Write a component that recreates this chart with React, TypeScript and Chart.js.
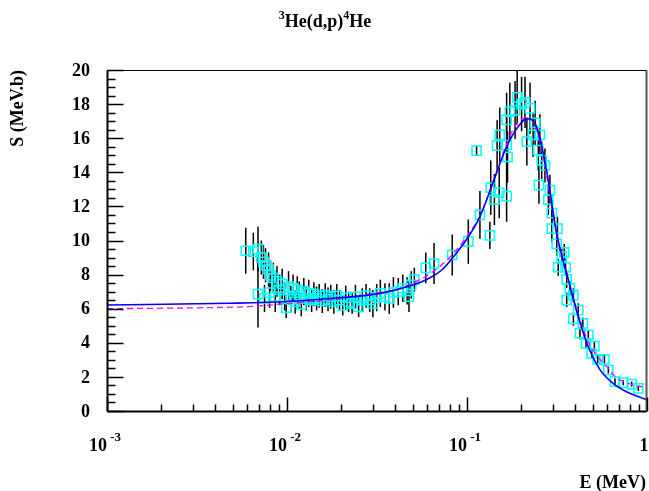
import React, { useEffect, useRef } from "react";
import { Chart, registerables } from "chart.js";

Chart.register(...registerables);

// ---- measured data points: energy (MeV), S-factor (MeV.b), error ----
const pointE = [
  0.0059, 0.0065, 0.0069, 0.0069, 0.0072, 0.0074, 0.0076, 0.0075, 0.0079, 0.0081,
  0.008, 0.0084, 0.0086, 0.0088, 0.0091, 0.0094, 0.0097, 0.0099, 0.0102, 0.0105,
  0.0108, 0.0111, 0.0114, 0.0117, 0.012, 0.0124, 0.0128, 0.0132, 0.0137, 0.0141,
  0.0146, 0.0151, 0.0157, 0.0163, 0.0169, 0.0175, 0.0182, 0.0189, 0.0196, 0.0204,
  0.0212, 0.022, 0.023, 0.024, 0.025, 0.0262, 0.0275, 0.0288, 0.03, 0.0315,
  0.033, 0.035, 0.037, 0.039, 0.0415, 0.044, 0.0465, 0.0476, 0.049, 0.051,
  0.059, 0.0656, 0.0828, 0.1017, 0.113, 0.118, 0.134, 0.1355, 0.142, 0.147,
  0.151, 0.152, 0.166, 0.166, 0.166, 0.168, 0.173, 0.185, 0.19, 0.201,
  0.21, 0.215, 0.224, 0.233, 0.239, 0.249, 0.251, 0.254, 0.26, 0.271,
  0.283, 0.289, 0.296, 0.296, 0.315, 0.318, 0.336, 0.347, 0.321, 0.353,
  0.358, 0.373, 0.39, 0.358, 0.415, 0.39, 0.44, 0.424, 0.472, 0.458,
  0.51, 0.493, 0.532, 0.58, 0.61, 0.664, 0.738, 0.822, 0.895,
];
const pointS = [
  9.4, 9.35, 9.5, 6.85, 9.0, 8.75, 8.55, 6.6, 8.3, 7.95,
  6.95, 7.8, 6.7, 7.6, 7.1, 7.45, 6.7, 6.05, 7.3, 6.55,
  7.2, 6.4, 7.1, 6.8, 6.25, 7.0, 6.6, 6.9, 6.5, 6.85,
  6.6, 6.75, 6.45, 6.8, 6.55, 6.7, 6.4, 6.75, 6.5, 6.2,
  6.65, 6.4, 6.3, 6.7, 6.1, 6.5, 6.75, 6.5, 6.3, 6.65,
  6.9, 6.7, 6.6, 6.95, 7.0, 7.2, 7.05, 6.7, 7.4, 7.7,
  8.4, 8.65, 9.15, 9.93, 15.27, 11.5, 10.3, 13.1, 12.4, 15.56,
  12.8, 16.2, 12.6, 15.6, 17.07, 14.9, 17.55, 17.65, 18.4, 18.0,
  18.1, 15.8, 17.75, 16.2, 16.9, 15.3, 13.25, 16.2, 14.7, 14.4,
  12.4, 12.96, 11.6, 10.7, 9.8, 10.7, 9.05, 9.3, 8.43, 8.43,
  7.72, 7.2, 6.8, 6.5, 5.92, 5.4, 5.14, 4.56, 4.46, 3.97,
  3.81, 3.38, 3.03, 3.03, 2.4, 1.72, 1.66, 1.58, 1.33,
];
const pointErr = [
  1.35, 1.1, 1.3, 1.95, 1.0, 1.0, 1.0, 0.8, 1.0, 0.9,
  0.9, 0.9, 0.9, 0.9, 0.9, 0.9, 0.8, 0.6, 0.9, 0.8,
  0.8, 0.7, 0.8, 0.8, 0.7, 0.8, 0.7, 0.8, 0.7, 0.7,
  0.7, 0.7, 0.7, 0.7, 0.7, 0.7, 0.7, 0.7, 0.6, 0.6,
  0.7, 0.6, 0.6, 0.7, 0.6, 0.7, 0.7, 0.7, 0.8, 0.8,
  0.8, 0.8, 0.9, 0.9, 0.8, 0.8, 0.8, 0.9, 0.8, 0.7,
  0.9, 1.2, 1.2, 1.3, 0.3, 1.4, 0.8, 1.6, 1.5, 1.5,
  1.5, 1.6, 1.5, 1.6, 1.6, 1.5, 1.7, 1.7, 1.6, 1.6,
  1.5, 1.4, 1.5, 1.3, 1.3, 1.2, 1.1, 1.2, 1.1, 1.0,
  0.9, 0.9, 0.8, 0.8, 0.7, 0.7, 0.5, 0.5, 0.5, 0.5,
  0.5, 0.4, 0.4, 0.4, 0.4, 0.4, 0.35, 0.35, 0.3, 0.3,
  0.3, 0.3, 0.25, 0.25, 0.2, 0.2, 0.15, 0.15, 0.15,
];

// ---- fit curve 1 (blue, solid) ----
const fitE = [
  0.001, 0.0048, 0.01, 0.0173, 0.033, 0.048, 0.062, 0.073, 0.082, 0.1,
  0.118, 0.139, 0.166, 0.193, 0.215, 0.243, 0.277, 0.315, 0.366, 0.415,
  0.48, 0.55, 0.648, 0.77, 1.0,
];
const fitS = [
  6.22, 6.32, 6.42, 6.6, 6.9, 7.33, 7.8, 8.3, 8.9, 10.1,
  11.4, 13.35, 15.5, 16.7, 17.15, 16.7, 14.1, 10.4, 7.68, 5.53,
  3.58, 2.4, 1.62, 1.13, 0.65,
];

// ---- fit curve 2 (magenta, dashed) ----
const fit2E = [
  0.001, 0.003, 0.006, 0.01, 0.02, 0.03, 0.04, 0.05, 0.06, 0.07,
  0.08, 0.1, 0.12, 0.14, 0.16, 0.18, 0.2, 0.215, 0.24, 0.27,
  0.3, 0.33, 0.37, 0.42, 0.48, 0.55, 0.61, 0.66, 0.74, 0.85, 0.94,
];
const fit2S = [
  6.0, 6.05, 6.12, 6.3, 6.6, 6.9, 7.1, 7.5, 7.95, 8.45,
  9.0, 10.25, 11.6, 13.5, 15.2, 16.5, 17.1, 17.2, 16.7, 14.5,
  11.6, 9.3, 7.5, 5.5, 3.9, 3.0, 2.5, 2.05, 1.72, 1.52, 1.42,
];

// ---- axes / labels ----
const yTickValues = [0, 2, 4, 6, 8, 10, 12, 14, 16, 18, 20];
const yTickLabels = ["0", "2", "4", "6", "8", "10", "12", "14", "16", "18", "20"];
const xDecadeValues = [0.001, 0.01, 0.1, 1];
const xTickBase = ["10", "10", "10", "1"];
const xTickExp = ["-3", "-2", "-1", ""];
const xMinorMultipliers = [2, 3, 4, 5, 6, 7, 8, 9];
const titleParts = [
  { t: "3", sup: true },
  { t: "He(d,p)", sup: false },
  { t: "4", sup: true },
  { t: "He", sup: false },
];
const xTitle = "E (MeV)";
const yTitle = "S (MeV.b)";

const FONT = '"Liberation Serif", "Times New Roman", serif';

function drawRich(ctx: CanvasRenderingContext2D, parts: { t: string; sup: boolean }[], x: number, baseline: number, size: number, supSize: number, supRise: number, align: "center" | "left") {
  const widths = parts.map((p) => {
    ctx.font = `bold ${p.sup ? supSize : size}px ${FONT}`;
    return ctx.measureText(p.t).width;
  });
  const total = widths.reduce((a, b) => a + b, 0);
  let cx = align === "center" ? x - total / 2 : x;
  ctx.textAlign = "left";
  ctx.textBaseline = "alphabetic";
  parts.forEach((p, i) => {
    ctx.font = `bold ${p.sup ? supSize : size}px ${FONT}`;
    ctx.fillText(p.t, cx, p.sup ? baseline - supRise : baseline);
    cx += widths[i];
  });
}

const errorBarPlugin = {
  id: "errorBars",
  beforeDatasetsDraw(chart: any) {
    const { ctx, scales } = chart;
    const xs = scales.x;
    const ys = scales.y;
    ctx.save();
    ctx.strokeStyle = "#000000";
    ctx.lineWidth = 1.5;
    for (let i = 0; i < pointE.length; i++) {
      const px = xs.getPixelForValue(pointE[i]);
      const y1 = ys.getPixelForValue(pointS[i] - pointErr[i]);
      const y2 = ys.getPixelForValue(pointS[i] + pointErr[i]);
      ctx.beginPath();
      ctx.moveTo(px, y1);
      ctx.lineTo(px, y2);
      ctx.stroke();
    }
    ctx.restore();
  },
};

const axesPlugin = {
  id: "rootAxes",
  afterDatasetsDraw(chart: any) {
    const { ctx, chartArea: a, scales } = chart;
    const xs = scales.x;
    const ys = scales.y;
    ctx.save();
    ctx.fillStyle = "#000000";
    ctx.strokeStyle = "#000000";
    ctx.lineWidth = 1;

    const L = Math.round(a.left) + 0.5;
    const R = Math.round(a.right) - 0.5;
    const T = Math.round(a.top) + 0.5;
    const B = Math.round(a.bottom) + 0.5;

    // frame
    ctx.beginPath();
    ctx.moveTo(L, T);
    ctx.lineTo(R, T);
    ctx.lineTo(R, B);
    ctx.lineTo(L, B);
    ctx.closePath();
    ctx.stroke();
    ctx.lineWidth = 2;
    ctx.beginPath();
    ctx.moveTo(L, B);
    ctx.lineTo(R, B);
    ctx.moveTo(L, T);
    ctx.lineTo(L, B);
    ctx.stroke();
    ctx.strokeStyle = "#555555";
    ctx.lineWidth = 2;
    ctx.beginPath();
    ctx.moveTo(R, T);
    ctx.lineTo(R, B);
    ctx.stroke();
    ctx.strokeStyle = "#000000";

    // x ticks
    ctx.lineWidth = 1.5;
    xDecadeValues.forEach((d, i) => {
      const px = Math.round(xs.getPixelForValue(d)) + 0.5;
      ctx.beginPath();
      ctx.moveTo(px, B);
      ctx.lineTo(px, B - 14);
      ctx.stroke();
      if (i < xDecadeValues.length - 1) {
        xMinorMultipliers.forEach((m) => {
          const mx = Math.round(xs.getPixelForValue(d * m)) + 0.5;
          ctx.beginPath();
          ctx.moveTo(mx, B);
          ctx.lineTo(mx, B - 7);
          ctx.stroke();
        });
      }
    });

    // y ticks
    for (let v = 0; v <= 20.001; v += 0.5) {
      const py = Math.round(ys.getPixelForValue(v)) + 0.5;
      const major = Math.abs(v / 2 - Math.round(v / 2)) < 1e-6;
      ctx.beginPath();
      ctx.moveTo(L, py);
      ctx.lineTo(L + (major ? 16 : 8), py);
      ctx.stroke();
    }

    // y labels
    ctx.font = `bold 18px ${FONT}`;
    ctx.textAlign = "right";
    ctx.textBaseline = "middle";
    yTickValues.forEach((v, i) => {
      ctx.fillText(yTickLabels[i], 90, ys.getPixelForValue(v) + 1);
    });

    // x labels
    xDecadeValues.forEach((d, i) => {
      const px = xs.getPixelForValue(d);
      const parts = [{ t: xTickBase[i], sup: false }];
      if (xTickExp[i]) parts.push({ t: " " + xTickExp[i], sup: true });
      drawRich(ctx, parts, i === xDecadeValues.length - 1 ? px - 3 : px - 2, 451, 18, 13, 10, "center");
    });

    // axis titles
    ctx.font = `bold 18px ${FONT}`;
    ctx.textAlign = "right";
    ctx.textBaseline = "alphabetic";
    ctx.fillText(xTitle, 646, 488);

    ctx.save();
    ctx.translate(23, 70);
    ctx.rotate(-Math.PI / 2);
    ctx.textAlign = "right";
    ctx.fillText(yTitle, 0, 0);
    ctx.restore();

    // title
    drawRich(ctx, titleParts, 325, 27, 18, 12, 8, "center");

    ctx.restore();
  },
};

export default function App() {
  const canvasRef = useRef<HTMLCanvasElement | null>(null);

  useEffect(() => {
    document.body.style.margin = "0";
    document.body.style.background = "#ffffff";
    const canvas = canvasRef.current;
    if (!canvas) return;

    const points = pointE.map((e, i) => ({ x: e, y: pointS[i] }));
    const fit1 = fitE.map((e, i) => ({ x: e, y: fitS[i] }));
    const fit2 = fit2E.map((e, i) => ({ x: e, y: fit2S[i] }));

    const chart = new Chart(canvas, {
      type: "scatter",
      data: {
        datasets: [
          {
            label: "fit",
            data: fit1,
            showLine: true,
            borderColor: "#0000ff",
            borderWidth: 1.6,
            pointRadius: 0,
            cubicInterpolationMode: "monotone",
            order: 0,
          } as any,
          {
            label: "fit2",
            data: fit2,
            showLine: true,
            borderColor: "#ff00ff",
            borderWidth: 1.3,
            borderDash: [6, 4],
            pointRadius: 0,
            cubicInterpolationMode: "monotone",
            order: 1,
          } as any,
          {
            label: "data",
            data: points,
            pointStyle: "rect",
            pointRadius: 6.5,
            pointBorderWidth: 1.5,
            borderColor: "#00ffff",
            backgroundColor: "rgba(0,0,0,0)",
            showLine: false,
            order: 2,
          } as any,
        ],
      },
      options: {
        responsive: false,
        animation: false,
        layout: { autoPadding: false, padding: { left: 107, top: 70, right: 2, bottom: 80 } },
        scales: {
          x: { type: "logarithmic", min: 0.001, max: 1, display: false },
          y: { type: "linear", min: 0, max: 20, display: false },
        },
        plugins: {
          legend: { display: false },
          tooltip: { enabled: false },
        },
        events: [],
      } as any,
      plugins: [errorBarPlugin, axesPlugin],
    });

    return () => chart.destroy();
  }, []);

  return (
    <div style={{ width: 649, height: 491, background: "#ffffff" }}>
      <canvas ref={canvasRef} width={649} height={491} style={{ display: "block" }} />
    </div>
  );
}
